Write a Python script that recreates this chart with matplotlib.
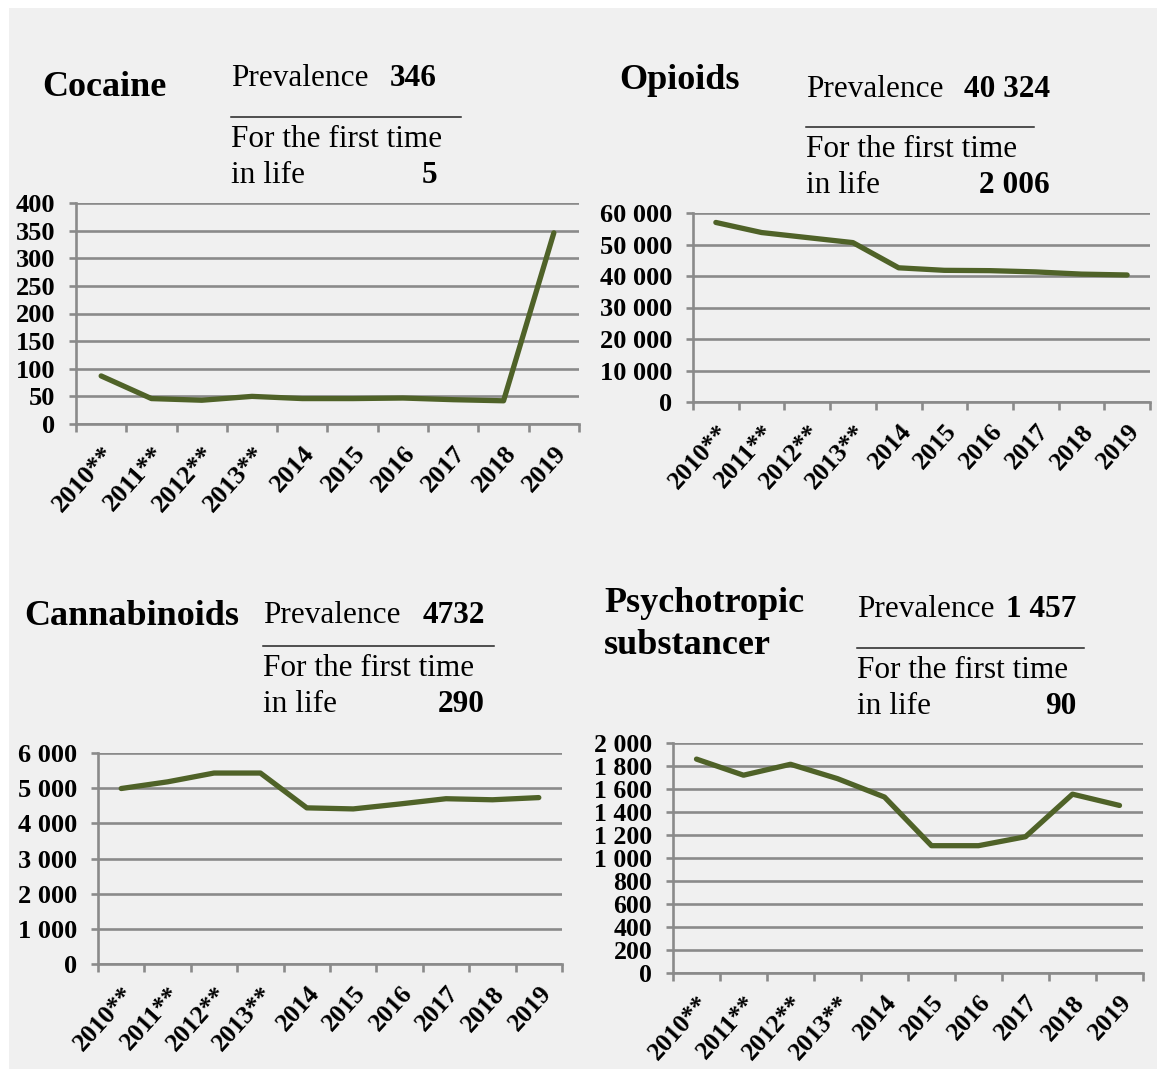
import numpy as np
import matplotlib
matplotlib.use("Agg")
import matplotlib.pyplot as plt
from matplotlib.patches import Rectangle
from matplotlib.lines import Line2D
from matplotlib.ticker import FuncFormatter

W, H = 1157, 1079
GREEN = "#4f6228"
GRID = "#8a8a8a"
BG = "#f0f0f0"
FONT = "Liberation Serif"

years = ["2010**", "2011**", "2012**", "2013**", "2014",
         "2015", "2016", "2017", "2018", "2019"]
cocaine = [87, 46, 43, 50, 46, 46, 47, 44, 42, 346]
opioids = [57000, 53800, 52200, 50600, 42600, 41800, 41700, 41300, 40600, 40324]
cannabinoids = [4990, 5180, 5430, 5430, 4440, 4410, 4550, 4700, 4670, 4732]
psychotropic = [1860, 1720, 1815, 1690, 1530, 1107, 1107, 1185, 1555, 1457]

fig = plt.figure(figsize=(W / 100, H / 100), dpi=100)
fig.patch.set_facecolor("white")
fig.patches.append(Rectangle((9 / W, 1 - 1069 / H), (1157 - 9) / W, (1069 - 8) / H,
                             transform=fig.transFigure, facecolor=BG,
                             edgecolor="none", zorder=-10))


def fx(x):
    return x / W


def fy(y):
    return 1 - y / H


def thousands(v, pos):
    return f"{int(v):,}".replace(",", " ")


def panel(left, right, top, bottom, values, ymax, ystep, xmax, yfs, xfs):
    ax = fig.add_axes([fx(left), fy(bottom), (right - left) / W, (bottom - top) / H])
    ax.set_facecolor("none")
    ax.set_zorder(2)
    x = np.arange(len(values)) + 0.5
    ax.plot(x, values, color=GREEN, lw=3.8, solid_capstyle="round",
            solid_joinstyle="round", zorder=3)
    ax.set_xlim(0, xmax)
    ax.set_ylim(0, ymax)
    ax.set_yticks(np.arange(0, ymax + 1, ystep))
    ax.yaxis.set_major_formatter(FuncFormatter(thousands))
    ax.yaxis.grid(True, color=GRID, lw=1.9)
    ax.set_axisbelow(True)
    for s in ("top", "right"):
        ax.spines[s].set_visible(False)
    for s in ("left", "bottom"):
        ax.spines[s].set_color(GRID)
        ax.spines[s].set_linewidth(1.9)
    ax.set_xticks(np.arange(0, len(values) + 1))
    ax.set_xticklabels([])
    ax.set_xticks(x, labels=years, minor=True)
    ax.tick_params(axis="x", which="major", length=6, width=1.9, color=GRID)
    ax.tick_params(axis="x", which="minor", length=0, pad=13)
    ax.tick_params(axis="y", length=5, width=1.9, color=GRID, pad=10)
    for lbl in ax.get_xticklabels(minor=True):
        lbl.set_rotation(48)
        lbl.set_ha("right")
        lbl.set_va("top")
        lbl.set_rotation_mode("anchor")
        lbl.set_fontfamily(FONT)
        lbl.set_fontweight("bold")
        lbl.set_fontsize(xfs)
    for lbl in ax.get_yticklabels():
        lbl.set_fontfamily(FONT)
        lbl.set_fontweight("bold")
        lbl.set_fontsize(yfs)
    return ax


panel(76, 579, 203, 424, cocaine, 400, 50, 10, 19, 19)
panel(693, 1150, 213, 402, opioids, 60000, 10000, (1150 - 693) / 46.5, 19, 18.5)
panel(98, 562, 753, 964, cannabinoids, 6000, 1000, 10, 19, 18.5)
panel(673, 1143, 743, 973, psychotropic, 2000, 200, 10, 18.5, 18.5)


def header(title_lines, tx, ty, px, py, line_y, line_x2, prev, first, right_x):
    for i, t in enumerate(title_lines):
        fig.text(fx(tx), fy(ty + i * 42), t, fontfamily=FONT, fontweight="bold",
                 fontsize=26, va="baseline", ha="left")
    fig.text(fx(px), fy(py), "Prevalence", fontfamily=FONT, fontsize=22.5,
             va="baseline", ha="left")
    fig.text(fx(right_x), fy(py), prev, fontfamily=FONT, fontsize=22.5,
             fontweight="bold", va="baseline", ha="right")
    fig.add_artist(Line2D([fx(px), fx(line_x2)], [fy(line_y), fy(line_y)],
                          color="#222222", lw=1.1, transform=fig.transFigure))
    fig.text(fx(px), fy(line_y + 30), "For the first time", fontfamily=FONT,
             fontsize=22.5, va="baseline", ha="left")
    fig.text(fx(px), fy(line_y + 66), "in life", fontfamily=FONT,
             fontsize=22.5, va="baseline", ha="left")
    fig.text(fx(right_x), fy(line_y + 66), first, fontfamily=FONT, fontsize=22.5,
             fontweight="bold", va="baseline", ha="right")


header(["Cocaine"], 42, 96, 231, 86, 117, 461, "346", "5", 437)
header(["Opioids"], 619, 89, 806, 97, 127, 1034, "40 324", "2 006", 1050)
header(["Cannabinoids"], 24, 625, 263, 623, 646, 494, "4732", "290", 485)
header(["Psychotropic", "substancer"], 604, 612, 857, 617, 648, 1084,
       "1 457", "90", 1076)

fig.savefig("out.png", dpi=100, facecolor=fig.get_facecolor())
